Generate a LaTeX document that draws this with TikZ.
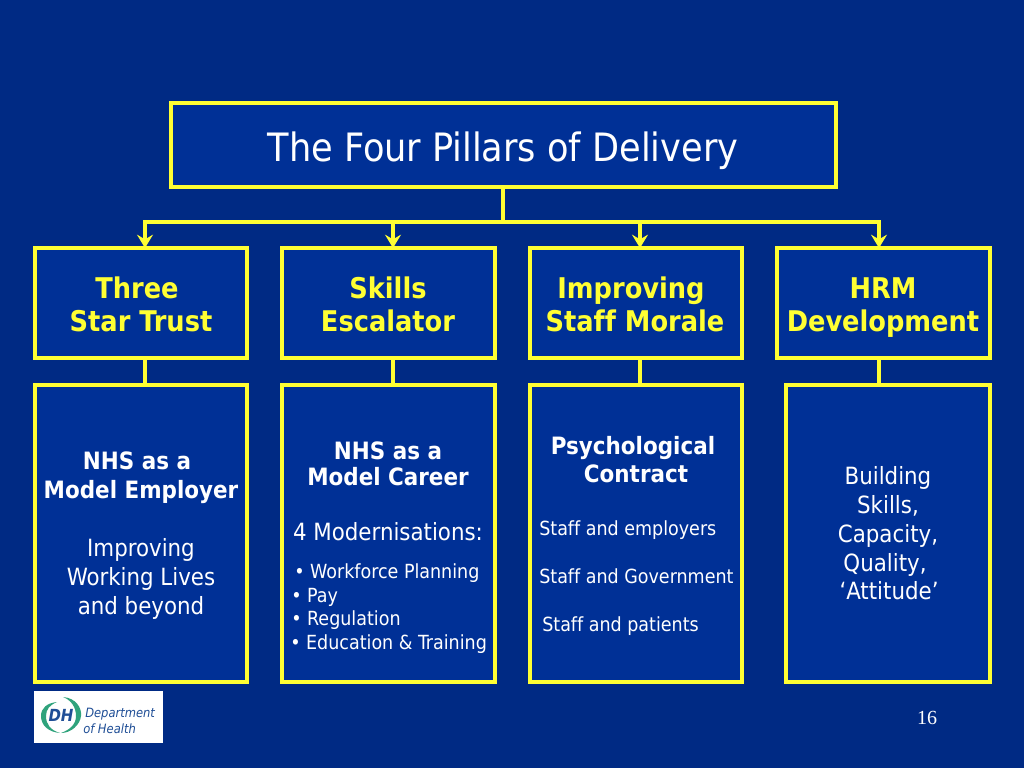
\documentclass[tikz,border=0pt]{standalone}
\usepackage{fontspec}
\setmainfont{DejaVu Sans Condensed}[BoldFont={DejaVu Sans Condensed Bold},ItalicFont={DejaVu Sans Condensed Oblique},BoldItalicFont={DejaVu Sans Condensed Bold Oblique},Ligatures=NoCommon]
\newfontfamily\numfont{Liberation Serif}
\usetikzlibrary{arrows.meta}
\definecolor{bgblue}{HTML}{002A84}
\definecolor{boxblue}{HTML}{003096}
\definecolor{lineyellow}{HTML}{FFFF33}
\definecolor{logogreen}{HTML}{2FA37C}
\definecolor{logoblue}{HTML}{1F4E96}
\tikzset{
  px/.style={x=0.75pt,y=-0.75pt},
  panel/.style={draw=lineyellow,line width=2.5pt,fill=boxblue},
  link/.style={draw=lineyellow,line width=2.4pt},
  arrowlink/.style={link,-{Stealth[length=10pt,width=12pt,inset=3.5pt]}},
  headtext/.style={text=lineyellow,font=\bfseries\fontsize{21.4}{24}\selectfont,inner sep=0pt,anchor=base},
  boldtext/.style={text=white,font=\bfseries\fontsize{17.9}{20}\selectfont,inner sep=0pt,anchor=base},
  midtext/.style={text=white,font=\fontsize{17.8}{20}\selectfont,inner sep=0pt,anchor=base},
  smalltext/.style={text=white,font=\fontsize{14.6}{17}\selectfont,inner sep=0pt,anchor=base west},
}
\newcommand{\panelbox}[5]{\path[panel] (#2,#3) rectangle (#4,#5);
  \coordinate (#1n) at ({(#2+#4)/2},#3); \coordinate (#1s) at ({(#2+#4)/2},#5);}
\begin{document}
\begin{tikzpicture}[px]
\useasboundingbox (0,0) rectangle (1024,768);
\fill[bgblue] (0,0) rectangle (1024,768);

% boxes
\panelbox{t}{171}{103}{836}{187}
\panelbox{pa}{35}{248}{247}{358}
\panelbox{pb}{282}{248}{495}{358}
\panelbox{pc}{530}{248}{742}{358}
\panelbox{pd}{777}{248}{990}{358}
\panelbox{da}{35}{385}{247}{682}
\panelbox{db}{282}{385}{495}{682}
\panelbox{dc}{530}{385}{742}{682}
\panelbox{dd}{786}{385}{990}{682}

% connectors
\coordinate (busL) at (145,222);
\coordinate (busR) at (879,222);
\coordinate (stem) at (503,222);
\coordinate (busB) at (393,222);
\coordinate (busC) at (640,222);
\draw[link,line cap=rect] (busL) -- (busR);
\draw[link] (stem) -- (stem |- ts);
\draw[arrowlink] (busL) -- (busL |- pan);
\draw[arrowlink] (busB) -- (busB |- pbn);
\draw[arrowlink] (busC) -- (busC |- pcn);
\draw[arrowlink] (busR) -- (busR |- pdn);
\draw[link] (busL |- pas) -- (busL |- dan);
\draw[link] (busB |- pbs) -- (busB |- dbn);
\draw[link] (busC |- pcs) -- (busC |- dcn);
\draw[link] (busR |- pds) -- (busR |- ddn);

% title
\node[text=white,font=\fontsize{29.3}{34}\selectfont,inner sep=0pt,anchor=base] (title) at (503,161) {The Four Pillars of Delivery};

% heads
\node[headtext] (h1a) at (137,298) {Three};
\node[headtext] (h1b) at (141,331) {Star Trust};
\node[headtext] (h2a) at (388,298) {Skills};
\node[headtext] (h2b) at (388,331) {Escalator};
\node[headtext] (h3a) at (631,298) {Improving};
\node[headtext] (h3b) at (635,331) {Staff Morale};
\node[headtext] (h4a) at (883,298) {HRM};
\node[headtext] (h4b) at (883,331) {Development};

% column 1
\node[boldtext] (a1) at (137,469) {NHS as a};
\node[boldtext] (a2) at (141,498) {Model Employer};
\node[midtext] (a3) at (141,556) {Improving};
\node[midtext] (a4) at (141,585) {Working Lives};
\node[midtext] (a5) at (141,614) {and beyond};

% column 2
\node[boldtext] (b1) at (388,459) {NHS as a};
\node[boldtext] (b2) at (388,485) {Model Career};
\node[midtext] (b3) at (388,540) {4 Modernisations:};
\node[smalltext] (b4) at (294,578) {• Workforce Planning};
\node[smalltext] (b5) at (291,602) {• Pay};
\node[smalltext] (b6) at (291,625) {• Regulation};
\node[smalltext] (b7) at (290,649) {• Education \& Training};

% column 3
\node[boldtext] (c1) at (633,454) {Psychological};
\node[boldtext] (c2) at (636,482) {Contract};
\node[smalltext] (c3) at (539,535) {Staff and employers};
\node[smalltext] (c4) at (539,583) {Staff and Government};
\node[smalltext] (c5) at (542,631) {Staff and patients};

% column 4
\node[midtext] (d1) at (888,484) {Building};
\node[midtext] (d2) at (888,513) {Skills,};
\node[midtext] (d3) at (888,542) {Capacity,};
\node[midtext] (d4) at (885,571) {Quality,};
\node[midtext] (d5) at (889,599) {‘Attitude’};

% page number
\node[text=white,font=\numfont\fontsize{15}{18}\selectfont,inner sep=0pt] (pg) at (927,718) {16};

% logo
\fill[white] (34,691) rectangle (163,743);
\fill[logogreen] (63,697) .. controls (76,698) and (82,708) .. (81,716) .. controls (80,725) and (71,733) .. (61,733) .. controls (69,730) and (76,725) .. (76,716) .. controls (76,707) and (71,700) .. (63,697) -- cycle;
\fill[logogreen] (57,702) .. controls (47,703) and (41,708) .. (41,716) .. controls (41,725) and (48,732) .. (60,733) .. controls (50,730) and (46,724) .. (46,716) .. controls (46,709) and (50,705) .. (57,702) -- cycle;
\node[text=logoblue,font=\bfseries\itshape\fontsize{12.5}{14}\selectfont,inner sep=0pt] (dh) at (61,715) {DH};
\node[text=logoblue,font=\itshape\fontsize{9.6}{11}\selectfont,inner sep=0pt,anchor=west] (dep) at (85,714) {Department};
\node[text=logoblue,font=\itshape\fontsize{9.6}{11}\selectfont,inner sep=0pt,anchor=west] (ofh) at (83,729) {of Health};
\end{tikzpicture}
\end{document}
